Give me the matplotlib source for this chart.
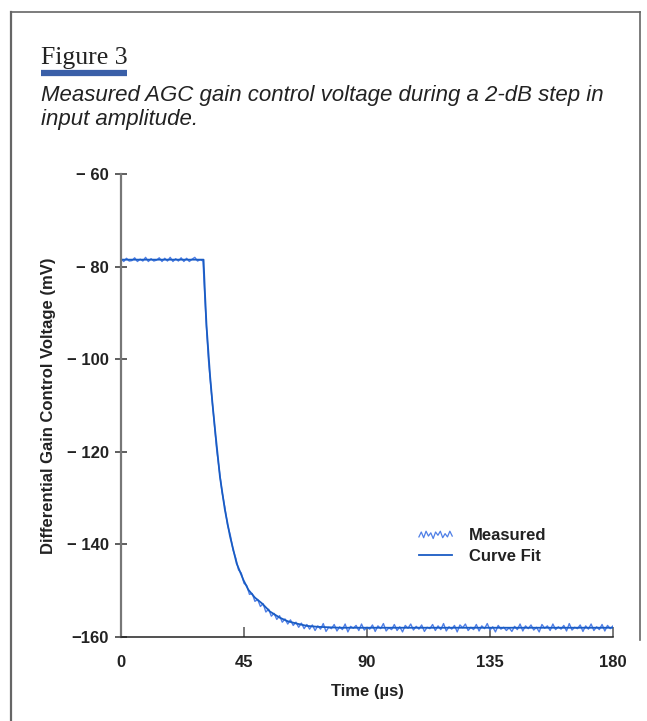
import matplotlib
matplotlib.use('Agg')
import matplotlib.pyplot as plt
import matplotlib.lines as mlines
from matplotlib.legend_handler import HandlerLine2D
import numpy as np

# Measured trace, read at 1 us steps (t = 0 .. 180)
measured_t = np.arange(0, 181, 1)
measured_v = [
    -78.3, -78.9, -78.2, -78.8, -78.7, -78.1, -78.9, -78.4, -78.8, -78.0,
    -78.9, -78.3, -78.8, -78.6, -78.1, -78.9, -78.2, -78.8, -78.0, -78.9,
    -78.3, -78.8, -78.1, -78.9, -78.2, -78.9, -78.4, -78.0, -78.8, -78.5,
    -78.8, -90.5, -100.2, -106.8, -113.0, -119.5, -124.1, -128.8, -132.0, -135.9,
    -138.0, -141.2, -143.0, -145.5, -146.2, -148.4, -148.9, -150.8, -150.6, -152.3,
    -151.9, -153.4, -152.8, -154.6, -154.0, -155.5, -154.9, -156.2, -155.4, -156.8,
    -156.1, -157.2, -156.3, -157.5, -156.8, -157.9, -157.0, -158.2, -157.3, -158.3,
    -157.4, -158.6, -157.6, -158.3, -157.1, -158.8, -157.9, -158.2, -157.3, -158.7,
    -157.8, -158.4, -157.2, -158.9, -157.7, -158.1, -157.5, -158.6, -157.2, -158.5,
    -157.9, -158.3, -157.4, -158.8, -157.6, -158.2, -157.1, -158.7, -158.0, -158.4,
    -157.3, -158.6, -157.8, -158.9, -157.5, -158.1, -157.2, -158.5, -157.7, -158.3,
    -157.4, -158.8, -157.9, -158.2, -157.3, -158.6, -157.6, -158.4, -157.1, -158.7,
    -157.8, -158.3, -157.5, -158.9, -157.4, -158.0, -157.2, -158.6, -157.9, -158.4,
    -157.3, -158.7, -157.6, -158.2, -157.1, -158.5, -157.8, -158.9, -157.5, -158.3,
    -157.9, -158.6, -158.0, -158.8, -157.7, -158.4, -157.2, -158.7, -157.6, -158.2,
    -157.4, -158.5, -157.9, -158.9, -157.3, -158.1, -157.6, -158.6, -157.2, -158.4,
    -157.8, -158.3, -157.5, -158.7, -157.1, -158.5, -157.9, -158.2, -157.4, -158.8,
    -157.6, -158.3, -157.2, -158.6, -157.8, -158.4, -157.3, -158.7, -157.5, -158.2,
    -157.6,
]

# Curve fit
fit_t = [0, 30.2, 30.7, 31.3, 32.6, 33.5, 34.4, 36.2, 38.0, 39.9, 42.3, 44.8,
         46.6, 49.0, 51.5, 54.5, 58.0, 61.0, 64.3, 68.0, 72.0, 80.0, 180.0]
fit_v = [-78.5, -78.5, -85.5, -92.9, -103.7, -109.8, -115.2, -125.4, -132.5,
         -138.3, -144.1, -147.7, -149.8, -151.5, -152.7, -154.5, -155.8,
         -156.6, -157.1, -157.6, -157.8, -158.0, -158.0]

x_ticks = [0, 45, 90, 135, 180]
y_ticks = [-60, -80, -100, -120, -140, -160]
y_labels = ['\u2212 60', '\u2212 80', '\u2212 100', '\u2212 120', '\u2212 140', '\u2212160']

# wiggle shape for the "Measured" legend key
wiggle = [0.2, 0.8, 0.1, 0.9, 0.3, 0.7, 0.0, 0.8, 0.4, 0.9, 0.1, 0.6, 0.2, 0.9, 0.3]


class WiggleHandler(HandlerLine2D):
    def create_artists(self, legend, orig_handle, xdescent, ydescent, width, height,
                       fontsize, trans):
        n = len(wiggle)
        xs = [-xdescent + width * i / (n - 1) for i in range(n)]
        ys = [-ydescent + height * (0.15 + 0.7 * w) for w in wiggle]
        line = mlines.Line2D(xs, ys, color=orig_handle.get_color(), lw=0.9,
                             transform=trans)
        return [line]


plt.rcParams['font.family'] = ['Liberation Sans Narrow', 'Liberation Sans', 'DejaVu Sans']

fig = plt.figure(figsize=(6.47, 7.21), dpi=100)

# outer frame lines
fig.add_artist(mlines.Line2D([10.5 / 647, 10.5 / 647], [0, 1 - 12 / 721],
                             color='#666666', lw=1.6, transform=fig.transFigure))
fig.add_artist(mlines.Line2D([10.5 / 647, 640 / 647], [1 - 12 / 721, 1 - 12 / 721],
                             color='#666666', lw=1.2, transform=fig.transFigure))
fig.add_artist(mlines.Line2D([640 / 647, 640 / 647], [1 - 12 / 721, 1 - 640 / 721],
                             color='#666666', lw=1.2, transform=fig.transFigure))

# heading
fig.text(41 / 647, 1 - 64 / 721, 'Figure 3', family=['Liberation Serif', 'DejaVu Serif'],
         fontsize=18.5, color='#222222', ha='left', va='baseline')
fig.add_artist(mlines.Line2D([41 / 647, 127 / 647], [1 - 72.5 / 721, 1 - 72.5 / 721],
                             color='#3a5fa8', lw=4.5, solid_capstyle='butt',
                             transform=fig.transFigure))
fig.text(41 / 647, 1 - 101 / 721,
         'Measured AGC gain control voltage during a 2-dB step in',
         family=['Liberation Sans', 'DejaVu Sans'], style='italic', fontsize=16,
         color='#222222', ha='left', va='baseline')
fig.text(41 / 647, 1 - 124.5 / 721, 'input amplitude.',
         family=['Liberation Sans', 'DejaVu Sans'], style='italic', fontsize=16,
         color='#222222', ha='left', va='baseline')

ax = fig.add_axes([121 / 647, 1 - 637 / 721, 492 / 647, 463 / 721])
ax.plot(measured_t, measured_v, color='#4f7fe6', lw=1.0, label='Measured')
ax.plot(fit_t, fit_v, color='#1a5cc4', lw=1.3, label='Curve Fit')

ax.set_xlim(0, 180)
ax.set_ylim(-160, -60)
ax.set_xticks(x_ticks)
ax.set_yticks(y_ticks)
ax.set_yticklabels(y_labels)
ax.set_xticklabels([str(v) for v in x_ticks])

ax.spines['top'].set_visible(False)
ax.spines['right'].set_visible(False)
ax.spines['left'].set_color('#777777')
ax.spines['left'].set_linewidth(1.6)
ax.spines['bottom'].set_color('#222222')
ax.spines['bottom'].set_linewidth(1.1)
ax.tick_params(axis='y', direction='inout', length=9, width=1.1, color='#333333',
               labelsize=12, pad=4)
ax.tick_params(axis='x', direction='in', length=7, width=1.1, color='#555555',
               labelsize=12, pad=13)
for lab in ax.get_xticklabels() + ax.get_yticklabels():
    lab.set_fontweight('bold')
    lab.set_color('#222222')

ax.set_xlabel('Time (\u00b5s)', fontsize=12, fontweight='bold', color='#222222', labelpad=10)
ax.set_ylabel('Differential Gain Control Voltage (mV)', fontsize=12, fontweight='bold',
              color='#222222', labelpad=8)

handles, labels = ax.get_legend_handles_labels()
leg = ax.legend(handles, labels, loc='lower left', bbox_to_anchor=(0.575, 0.125),
                frameon=False, handlelength=2.0, handletextpad=1.0, labelspacing=0.35,
                prop={'weight': 'bold', 'size': 12},
                handler_map={handles[0]: WiggleHandler()})
for t in leg.get_texts():
    t.set_color('#222222')

fig.savefig('out.png', dpi=100)
